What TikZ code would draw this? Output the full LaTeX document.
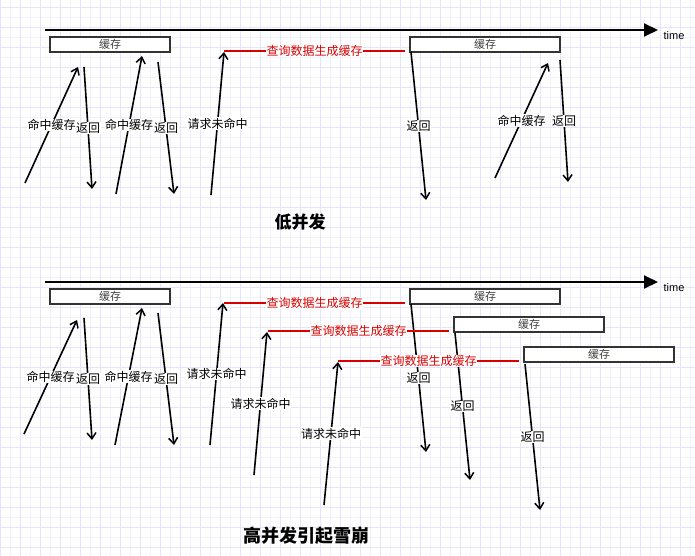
\documentclass[tikz,border=0pt]{standalone}
\usepackage{fontspec}
\setmainfont{Liberation Sans}
\newfontfamily\cjk{Noto Sans CJK SC}
\usetikzlibrary{arrows.meta}

\tikzset{
  cachebox/.style={draw=black!80, line width=1.8pt, fill=white, minimum height=15pt, inner sep=0pt,
    text=black!75, font=\cjk\fontsize{11}{12}\selectfont},
  req/.style={line width=1.6pt, -{Straight Barb[length=6pt,width=9pt,line width=1.5pt]}},
  lab/.style={fill=white, inner sep=0.5pt, font=\cjk\fontsize{12}{13}\selectfont},
  gen/.style={draw=red!85!black, line width=1.6pt},
  genlab/.style={fill=white, inner sep=0.5pt, text=red!85!black, font=\cjk\fontsize{12}{13}\selectfont},
  axis/.style={line width=2pt, -{Triangle[length=14pt,width=13pt]}},
  title/.style={font=\cjk\bfseries\fontsize{17}{19}\selectfont},
}

\begin{document}
\begin{tikzpicture}[x=1pt, y=-1pt]
    \useasboundingbox (0,0) rectangle (695,556);
    % 背景网格
    \fill[white] (0,0) rectangle (695,556);
    \foreach \x in {10,30,...,690} \draw[color={rgb,255:red,242;green,242;blue,252}] (\x,0) -- (\x,556);
    \foreach \y in {-3,17,...,556} \draw[color={rgb,255:red,242;green,242;blue,252}] (0,\y) -- (695,\y);
    \foreach \x in {0,20,...,690} \draw[color={rgb,255:red,228;green,228;blue,250}] (\x,0) -- (\x,556);
    \foreach \y in {7,27,...,556} \draw[color={rgb,255:red,228;green,228;blue,250}] (0,\y) -- (695,\y);

    % ===== 低并发 =====
    % 时间轴
    \coordinate (ta0) at (45,30);
    \coordinate (ta1) at (658,30);
    \draw[axis] (ta0) -- (ta1);
    \node[font=\fontsize{11}{12}\selectfont] (tima) at (674,36) {time};

    % 缓存
    \node[cachebox, minimum width=120pt] (ca1) at (110,44.5) {缓存};
    \node[cachebox, minimum width=150pt] (ca2) at (485,44.5) {缓存};

    % 命中缓存 / 返回
    \foreach \i/\xa/\ya/\xb/\yb/\xc/\yc/\xd/\yd in {1/25/183/78/67/84/67/92/189, 2/116/194/142/56/158/62/174/194, 3/495/178/548/63/560/60/568/182}{
        \coordinate (ha\i) at (\xa,\ya);
        \coordinate (hb\i) at (\xb,\yb);
        \coordinate (ra\i) at (\xc,\yc);
        \coordinate (rb\i) at (\xd,\yd);
        \draw[req] (ha\i) -- node[lab] {命中缓存} (hb\i);
        \draw[req] (ra\i) -- node[lab] {返回} (rb\i);
    }

    % 请求未命中, 查询数据生成缓存
    \coordinate (ma1) at (211,195);
    \coordinate (mb1) at (224,52);
    \draw[req] (ma1) -- node[lab] {请求未命中} (mb1);
    \coordinate (ga1) at (224,51);
    \coordinate (gb1) at (405,51);
    \draw[gen] (ga1) -- node[genlab] {查询数据生成缓存} (gb1);
    \coordinate (da1) at (411,52);
    \coordinate (db1) at (426,200);
    \draw[req] (da1) -- node[lab] {返回} (db1);

    \node[title] (tla) at (300,222) {低并发};

    % ===== 高并发引起雪崩 =====
    % 时间轴
    \coordinate (tb0) at (45,282);
    \coordinate (tb1) at (658,282);
    \draw[axis] (tb0) -- (tb1);
    \node[font=\fontsize{11}{12}\selectfont] (timb) at (674,288) {time};

    % 缓存
    \node[cachebox, minimum width=120pt] (cb1) at (110,296.5) {缓存};
    \node[cachebox, minimum width=150pt] (cb2) at (485,296.5) {缓存};
    \node[cachebox, minimum width=150pt] (cb3) at (529,324.5) {缓存};
    \node[cachebox, minimum width=150pt] (cb4) at (599,354.5) {缓存};

    % 命中缓存 / 返回
    \foreach \i/\xa/\ya/\xb/\yb/\xc/\yc/\xd/\yd in {1/24/434/77/320/84/318/92/440, 2/115/445/142/308/158/313/174/445}{
        \coordinate (hc\i) at (\xa,\ya);
        \coordinate (hd\i) at (\xb,\yb);
        \coordinate (rc\i) at (\xc,\yc);
        \coordinate (rd\i) at (\xd,\yd);
        \draw[req] (hc\i) -- node[lab] {命中缓存} (hd\i);
        \draw[req] (rc\i) -- node[lab] {返回} (rd\i);
    }

    % 请求未命中 (三次) 与返回
    \foreach \i/\xa/\ya/\xb/\yb/\xc/\yc/\xd/\yd in {1/210/445/223/303/411/304/426/452, 2/254/475/267/332/455/333/470/480, 3/324/505/338/362/525/364/540/510}{
        \coordinate (mc\i) at (\xa,\ya);
        \coordinate (md\i) at (\xb,\yb);
        \coordinate (dc\i) at (\xc,\yc);
        \coordinate (dd\i) at (\xd,\yd);
        \draw[req] (mc\i) -- node[lab] {请求未命中} (md\i);
        \draw[req] (dc\i) -- node[lab] {返回} (dd\i);
    }

    % 查询数据生成缓存
    \foreach \i/\xa/\xb/\y in {1/224/405/303, 2/268/449/331, 3/338/519/361}{
        \coordinate (gc\i) at (\xa,\y);
        \coordinate (gd\i) at (\xb,\y);
        \draw[gen] (gc\i) -- node[genlab] {查询数据生成缓存} (gd\i);
    }

    \node[title, font=\cjk\bfseries\fontsize{18}{20}\selectfont] (tlb) at (306,536) {高并发引起雪崩};
\end{tikzpicture}
\end{document}
